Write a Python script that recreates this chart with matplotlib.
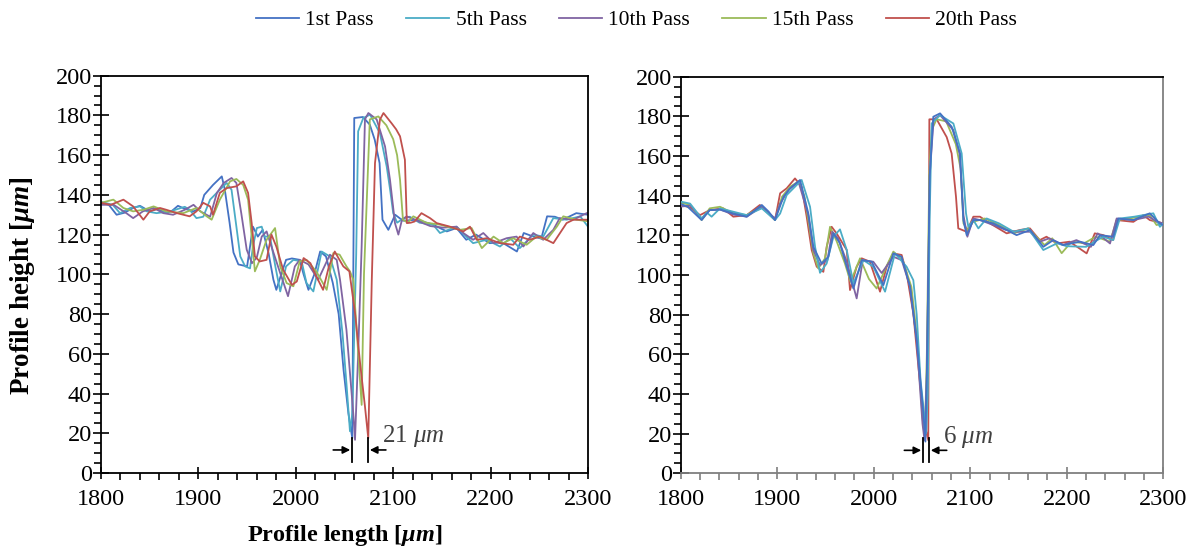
import numpy as np
import matplotlib
matplotlib.use("Agg")
import matplotlib.pyplot as plt
from matplotlib.ticker import MultipleLocator

plt.rcParams['font.family'] = ['Liberation Serif', 'DejaVu Serif']
plt.rcParams['mathtext.fontset'] = 'custom'
plt.rcParams['mathtext.rm'] = 'Liberation Serif'
plt.rcParams['mathtext.it'] = 'Liberation Serif:italic'
plt.rcParams['mathtext.bf'] = 'Liberation Serif:bold'
plt.rcParams['mathtext.bfit'] = 'Liberation Serif:italic:bold'

series_names = ["1st Pass", "5th Pass", "10th Pass", "15th Pass", "20th Pass"]
colors = ["#4472C4", "#4BACC6", "#8064A2", "#9BBB59", "#C0504D"]

# ---------------- Left panel data (x [um], height [um]) ----------------
L1 = np.array([(1800,136),(1808,135),(1816,130),(1824,131),(1833,133.4),(1840,134.5),(1850,131.7),(1858,133),
      (1867,130.8),(1873,132),(1879,134.5),(1886,133),(1895,131.7),(1902,133.4),(1906,140),(1915,145),
      (1924,149.3),(1927,143),(1932,126),(1936,111),(1941,105),(1950,104),(1956,124),(1961,119),(1966,122.4),
      (1972,110.7),(1977,97.3),(1980,92.2),(1985,100),(1990,107.3),(1996,108),(2004,107.3),(2008,100),
      (2013,92.2),(2019,100),(2025,111.5),(2031,109),(2038,95.6),(2044,80),(2049,52),(2054,30),(2058,17.5),
      (2060,178.7),(2069,179.2),(2076,175.3),(2081,167.8),(2086,156),(2089,127.5),(2095,122.4),(2102,130),
      (2110,127),(2124,127.5),(2141,125),(2155,121.6),(2165,123.3),(2175,117.4),(2185,120),(2199,115.7),
      (2212,116),(2227,111.5),(2234,120.8),(2244,119),(2252,118),(2258,129.2),(2266,129),(2274,127.5),
      (2288,130.8),(2300,130)])
L2 = np.array([(1800,136.5),(1812,135),(1819.5,130.8),(1830,133.4),(1840,134.2),(1847,131.7),(1857,130.8),
      (1871,131.7),(1886,134),(1891,132.5),(1898,128.3),(1905,129),(1912,137.6),(1922,142.6),(1929,146),
      (1934,142.6),(1939,124),(1943,109),(1948,104),(1953,103),(1956,114),(1960,123.3),(1965,124),(1968,119),
      (1973.5,119),(1979,104),(1984,91.4),(1990,104),(1997.5,107.3),(2006,106.5),(2011,95.6),(2018,91.4),
      (2026.5,111.5),(2035,109),(2042,97.3),(2048,70),(2052,45),(2055.6,21),(2058,30),(2062,110),(2064,172),
      (2069.3,178.7),(2076.2,180.4),(2086.4,171),(2093.3,154.3),(2097,142),(2100,130.8),(2104,126),(2110,128),
      (2117,129),(2127,126),(2141,125),(2148,120.8),(2165,124),(2175,119),(2182,115.7),(2196,117.4),
      (2209.6,114),(2220,118.2),(2230,113.2),(2243.8,120),(2254,119),(2264.4,128.3),(2278,127.5),
      (2292,129.2),(2300,124)])
L3 = np.array([(1800,135),(1813,135),(1826,130.8),(1833,128.3),(1843,131.7),(1854,133.4),(1864,130.8),(1874,130),
      (1886,132.5),(1895,135),(1902,131.7),(1912,129),(1919,141),(1926,146),(1934,148.5),(1939,146),
      (1944,130.8),(1949.6,112.4),(1955,105.6),(1960,108.6),(1965,119),(1970,121.6),(1975,114),(1984,100.6),
      (1992,89),(1999,104),(2004,107.3),(2013,105),(2023,97.3),(2035,109.9),(2042,107.3),(2045.4,97.3),
      (2052,72),(2059,30),(2060.8,16.7),(2064,60),(2067.6,114),(2071,178),(2074.5,181.2),(2083,178),
      (2091.6,164.4),(2096.7,147.6),(2101.8,125.8),(2105.3,120),(2109,127.5),(2113.8,129.2),(2122,127.5),
      (2138,124.3),(2151.5,123.5),(2165,124),(2172,120.8),(2182,117.4),(2192.5,120.8),(2203,115.7),
      (2216.5,118.2),(2226.7,119),(2233.6,114),(2243.8,120.8),(2254,117.4),(2264.4,122.4),(2271,128.3),
      (2285,127.5),(2298.6,130.8),(2300,131)])
L4 = np.array([(1800,136),(1812.7,137.6),(1823,133.4),(1833,131.7),(1843.5,132.5),(1854,134.2),(1867,131.7),
      (1884.5,130.8),(1898,133.4),(1908.5,129.2),(1913.6,127.5),(1922,137.6),(1932.5,146.8),(1939,148),
      (1946,145),(1951,137.6),(1954.7,119),(1958,101.5),(1963,107.3),(1970,117.4),(1978.7,123.3),(1984,104),
      (1990.6,95.6),(1997.5,94),(2004,106.5),(2011,107.3),(2021,101.5),(2031.7,92.2),(2038.5,110.7),
      (2045,109.9),(2052,104),(2055.6,101.5),(2059,97.3),(2062.5,72),(2067.6,34.3),(2070,100),(2076,178),
      (2084.7,179.5),(2093,175),(2100,168),(2104,160),(2107,147.6),(2110,127.5),(2115,126),(2120.6,129.2),
      (2134,126),(2148,125),(2168.6,122.4),(2180.5,123.3),(2191,113.2),(2203,119),(2213,115.7),(2223,118.2),
      (2237,114.9),(2247,119),(2257.5,117.4),(2268,124),(2274.6,129.2),(2288,127.5),(2300,126.7)])
L5 = np.array([(1800,136),(1810,135),(1823,137.6),(1833,134.2),(1843.5,127.5),(1850,131.7),(1860.6,133.4),
      (1867,132.5),(1878,130.8),(1891,129.2),(1898,131.7),(1905,136),(1912,134.2),(1915,130),(1922,141),
      (1929,143.4),(1939,144.3),(1946,146.8),(1951,141),(1954.7,125.8),(1958,109),(1963,106.5),(1970,107.3),
      (1975,120),(1980,114),(1987,102.3),(1996,94.7),(2001,96.4),(2008,108.2),(2015,105.6),(2021,99),
      (2028,92.2),(2034,104),(2040,111.5),(2044,108),(2048.8,104),(2055,101.5),(2060.8,80.5),(2066,55.3),
      (2071,33.5),(2074.4,17.5),(2078,97),(2081.3,156),(2086.4,177.9),(2090,181.2),(2098.4,176),(2103,173),
      (2107,169.5),(2112,157.7),(2114,125.8),(2118,126),(2122,126.6),(2129,130.8),(2137.8,128.3),
      (2144.6,125.8),(2158.3,124),(2172,121.6),(2178.8,124),(2185.7,117.4),(2196,118.2),(2209.6,115.7),
      (2223.3,114.9),(2230,119),(2240,117.4),(2250.7,119),(2264.4,115.7),(2278,125.8),(2285,127.5),
      (2300,127.5)])

# ---------------- Right panel data ----------------
R1 = np.array([(1800,135.8),(1807,134.5),(1821.7,127.7),(1830,132.7),(1840.7,133),(1854.5,131),(1868.4,129.4),
      (1884,135.3),(1891,132),(1897.7,127.7),(1906.5,139.5),(1913.3,143.7),(1923.6,147.9),(1932.2,131.1),
      (1937.4,114.2),(1946,105.8),(1953,109.2),(1958.2,121),(1965,116),(1972,104.2),(1978.9,93.2),
      (1987.5,107.5),(1997.8,106.7),(2010,94.9),(2020.3,110.9),(2028.9,109.2),(2037.6,94.1),(2044.5,67.2),
      (2051.4,30.2),(2053.5,16),(2055,50),(2058,150),(2061.7,179.8),(2068.7,181.5),(2080.7,174.8),
      (2089.4,161.3),(2092.8,127.7),(2096.3,120.1),(2103.2,127.7),(2110,127.7),(2124,126),(2137.7,122.7),
      (2148,120.1),(2162,122.7),(2175.7,114.2),(2186,117.6),(2196.4,115.1),(2213.7,116.8),(2227.5,115.1),
      (2234.4,120.1),(2248.2,119.3),(2253.4,128.5),(2269,127.7),(2286,131.1),(2296.4,126),(2300,125.2)])
R2 = np.array([(1800,137),(1809.7,136),(1821.7,128.5),(1827,131.5),(1832,129.4),(1840.7,133.6),(1854.5,131.9),
      (1868.4,130.2),(1884,133.6),(1897.7,127.7),(1903,131),(1909.8,140.3),(1925.3,147.9),(1934,134.4),
      (1939.2,114.2),(1944.3,101.1),(1951.2,105.8),(1958.2,119.3),(1965,123),(1972,112.6),(1978.9,95.8),
      (1989.2,107.5),(1999.5,104.2),(2011.7,91.6),(2022,110.9),(2034,104.2),(2041,97.4),(2044.5,80),
      (2048.5,47),(2054.3,20.1),(2056,40),(2058,130),(2060,176.4),(2068.7,180.6),(2082.5,176.4),
      (2091.1,161.3),(2095.6,131.1),(2098,124.3),(2103.2,127.7),(2108.4,123.5),(2117,128.5),(2130,126),
      (2145,121.8),(2160,123.5),(2175.7,112.6),(2190,116),(2200,114.5),(2220,114.2),(2237.5,119.3),
      (2248.2,117.6),(2255,128.5),(2270,129.4),(2289.7,131.1),(2296.5,124.3),(2300,126)])
R3 = np.array([(1800,134.5),(1810,135),(1821.7,128.5),(1830,132.7),(1840.7,133),(1854.5,130.5),(1868.4,129.4),
      (1884,134.4),(1897.7,128.5),(1903,136),(1912,143),(1922,147.1),(1932.2,130.2),(1937.4,112.6),
      (1944.3,105),(1952,107.5),(1957,121.8),(1963,118.5),(1972,106.7),(1982.3,88.2),(1988.6,107.5),
      (1999.5,106.7),(2008.2,101),(2020.3,109.2),(2029,107.5),(2037.6,94.1),(2044.5,67.2),(2050.5,25),
      (2052.6,16.7),(2055,50),(2058,150),(2062,178.5),(2068.7,180.6),(2082.5,173.1),(2089,161),(2093,130),
      (2097,119.3),(2103.2,128.5),(2110,127.7),(2124,125.2),(2137,122.7),(2148,121.8),(2162,121.8),
      (2172,116.8),(2182,118.5),(2196,115.1),(2210,117.6),(2225,114.2),(2232,121),(2244.8,115.9),
      (2251.7,128.5),(2269,127.7),(2285,129.4),(2293,127),(2300,126)])
R4 = np.array([(1800,136.5),(1810,135.3),(1821.7,127.7),(1830,133.6),(1840.7,134.4),(1854.5,131.1),(1868.4,130.2),
      (1884,134.4),(1897.7,127.7),(1905,139.5),(1913.3,144.5),(1921.9,147.1),(1928,140),(1932.2,127.7),
      (1937.4,110.9),(1942.6,103.3),(1949.5,108.4),(1954.7,124.3),(1961.6,117),(1970,106),(1976,96.6),
      (1985.8,108.4),(1995,98),(2003,93.2),(2013,104.2),(2020.3,111.8),(2030,107.5),(2039,94),(2045,68),
      (2050.5,28),(2053,18),(2055,60),(2057.5,150),(2060,173),(2065,178.5),(2075,177.5),(2085,166),
      (2090,153.6),(2093,126),(2097,122.7),(2103,126.8),(2115,128.5),(2130,125.2),(2145,121),(2160,123.5),
      (2177,115.1),(2185,118.5),(2194.7,111),(2205,116.8),(2218,116),(2230,119.3),(2244.8,116.8),
      (2251.7,127.7),(2265,128.5),(2286,130.2),(2293,125.2),(2300,126)])
R5 = np.array([(1800,135.3),(1810,134),(1820,130.2),(1830,132.7),(1844,133.6),(1854.5,129.4),(1868.4,130.2),
      (1882,135.3),(1890.8,131.1),(1897.7,127.7),(1903,141.2),(1909.8,143.7),(1918.4,148.7),(1925.3,144.5),
      (1930.5,129.4),(1935.7,112.6),(1940.9,104.2),(1947.8,101.6),(1951.2,114.2),(1956.4,124.3),
      (1961.6,120.9),(1972,112.6),(1975.4,92.4),(1982.3,104.2),(1987.5,108.4),(1996,106.7),(2006.5,91.6),
      (2013.4,104.2),(2020.3,110.9),(2028.9,110.1),(2034.1,100.8),(2041,80.6),(2048,45),(2053.1,23.5),
      (2056.5,16.7),(2057.6,178.5),(2065.2,178.5),(2075.6,169.5),(2080.7,161.3),(2085.2,139.5),
      (2087.6,123.5),(2096.3,121.8),(2103.2,129.4),(2110,129.4),(2120.5,126),(2137.7,121),(2151.5,122.7),
      (2161.8,123.5),(2172,117.6),(2179,119.3),(2189.5,115.9),(2203,116.8),(2220.6,110.9),(2229,121),
      (2237.9,120.1),(2248,117.6),(2251.7,127.7),(2269,126.8),(2279.3,130.2),(2286,127.7),(2300,126)])

left_series = [L1, L2, L3, L4, L5]
right_series = [R1, R2, R3, R4, R5]

# annotation values: (left line x, right line x, label)
left_gap = (2057.4, 2074.5, "21 $\\mathit{\\mu m}$")
right_gap = (2050.7, 2057.6, "6 $\\mathit{\\mu m}$")

fig = plt.figure(figsize=(12.01, 5.5), dpi=100)
ax1 = fig.add_axes([0.0841, 0.140, 0.4055, 0.7224])
ax2 = fig.add_axes([0.5668, 0.1394, 0.4018, 0.7212])

for s, c, n in zip(left_series, colors, series_names):
    ax1.plot(s[:, 0], s[:, 1], color=c, lw=1.3, label=n)
order_r = [4, 3, 2, 1, 0]
for i in order_r:
    ax2.plot(right_series[i][:, 0], right_series[i][:, 1], color=colors[i], lw=1.3, zorder=3 + (4 - i))

def style_axis(ax, gray_bottom=False):
    ax.set_xlim(1800, 2300)
    ax.set_ylim(0, 200)
    ax.xaxis.set_major_locator(MultipleLocator(100))
    ax.xaxis.set_minor_locator(MultipleLocator(20))
    ax.yaxis.set_major_locator(MultipleLocator(20))
    ax.yaxis.set_minor_locator(MultipleLocator(5))
    ax.tick_params(axis='both', which='major', direction='inout', length=11, width=1.2,
                   labelsize=17.5, pad=4)
    ax.tick_params(axis='y', which='major', pad=1)
    ax.tick_params(axis='x', which='major', length=9, pad=7)
    ax.tick_params(axis='both', which='minor', direction='out', length=5, width=1.2)
    for sp in ax.spines.values():
        sp.set_linewidth(1.3)
        sp.set_color('black')
    if gray_bottom:
        ax.spines['bottom'].set_color('#7f7f7f')
        ax.spines['right'].set_color('#7f7f7f')
        ax.tick_params(axis='x', which='both', color='#7f7f7f')

style_axis(ax1)
style_axis(ax2, gray_bottom=True)

ax1.set_xlabel("Profile length [$\\mathbfit{\\mu m}$]", fontsize=17.5, fontweight='bold')
ax1.xaxis.set_label_coords(0.5, -0.125)
ax1.set_ylabel("Profile height [$\\mathbfit{\\mu m}$]", fontsize=19.5, fontweight='bold')
ax1.yaxis.set_label_coords(-0.131, 0.47)

def gap_annot(ax, gap, text_x):
    xa, xb, txt = gap
    ax.plot([xa, xa], [5.5, 17.6], color='black', lw=1.3, zorder=10)
    ax.plot([xb, xb], [5.5, 17.6], color='black', lw=1.3, zorder=10)
    ap = dict(arrowstyle='-|>', color='black', lw=1.2, mutation_scale=11, shrinkA=0, shrinkB=0)
    ax.annotate('', xy=(xa - 1.5, 11.6), xytext=(xa - 19, 11.6), arrowprops=ap, zorder=10)
    ax.annotate('', xy=(xb + 1.5, 11.6), xytext=(xb + 18, 11.6), arrowprops=ap, zorder=10)
    ax.text(text_x, 18.5, txt, fontsize=18, color='#404040', ha='left', va='center')

gap_annot(ax1, left_gap, 2089)
gap_annot(ax2, right_gap, 2072)

handles, labels = ax1.get_legend_handles_labels()
fig.legend(handles, labels, loc='center', bbox_to_anchor=(0.53, 0.963), ncol=5, frameon=False,
           fontsize=15.5, handlelength=2.0, columnspacing=1.5, handletextpad=0.3)

fig.savefig("out.png", dpi=100)
